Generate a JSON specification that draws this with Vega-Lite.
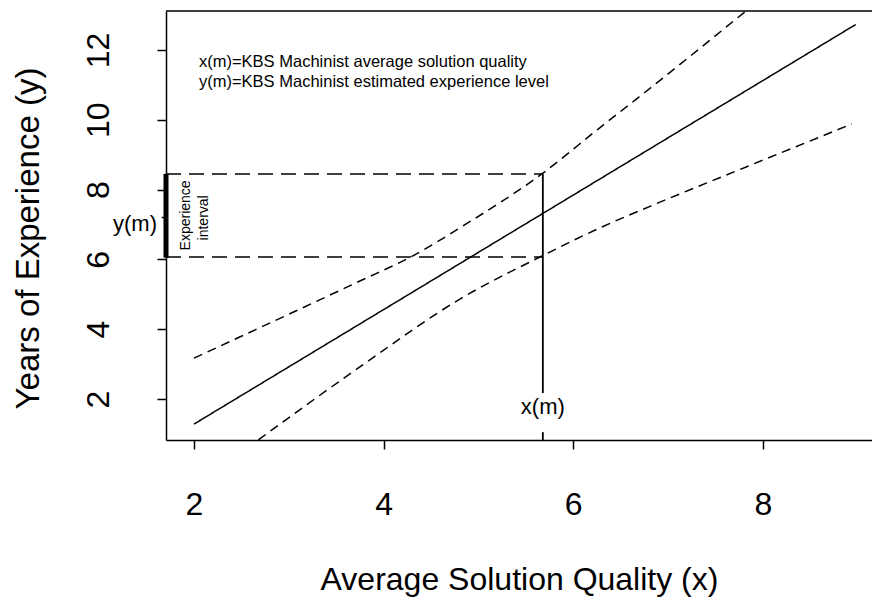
{
  "$schema": "https://vega.github.io/schema/vega-lite/v6.json",
  "width": 706,
  "height": 429,
  "autosize": {"type": "none"},
  "padding": {"left": 166, "top": 11, "right": 0, "bottom": 160},
  "background": "white",
  "config": {
    "view": {"stroke": null},
    "font": "Liberation Sans",
    "axis": {
      "grid": false,
      "domainColor": "black",
      "domainWidth": 1.5,
      "tickColor": "black",
      "tickWidth": 1.5,
      "tickSize": 9,
      "labelColor": "black",
      "titleColor": "black",
      "labelFont": "Liberation Sans",
      "titleFont": "Liberation Sans",
      "titleFontWeight": "normal",
      "labelOverlap": false,
      "labelFlush": false
    }
  },
  "encoding": {
    "x": {
      "field": "x",
      "type": "quantitative",
      "scale": {"domain": [1.705, 9.152], "nice": false, "zero": false},
      "axis": {
        "values": [2, 4, 6, 8],
        "title": "Average Solution Quality (x)",
        "labelFontSize": 32,
        "labelPadding": 65,
        "labelBaseline": "alphabetic",
        "titleFontSize": 32,
        "titleX": 353,
        "titleY": 149,
        "titleAlign": "center",
        "titleBaseline": "alphabetic"
      }
    },
    "y": {
      "field": "y",
      "type": "quantitative",
      "scale": {"domain": [0.825, 13.117], "nice": false, "zero": false},
      "axis": {
        "values": [2, 4, 6, 8, 10, 12],
        "title": "Years of Experience (y)",
        "labelFontSize": 32,
        "labelAngle": 270,
        "labelAlign": "center",
        "labelBaseline": "alphabetic",
        "labelPadding": 49,
        "titleFontSize": 33,
        "titleAngle": 270,
        "titleX": -128,
        "titleY": 227,
        "titleAlign": "center",
        "titleBaseline": "alphabetic"
      }
    }
  },
  "layer": [
    {
      "data": {"values": [
        {"s": "fit", "x": 2.0, "y": 1.28},
        {"s": "fit", "x": 8.98, "y": 12.73},
        {"s": "upper", "x": 2.0, "y": 3.17},
        {"s": "upper", "x": 2.7, "y": 4.05},
        {"s": "upper", "x": 3.75, "y": 5.38},
        {"s": "upper", "x": 4.28, "y": 6.06},
        {"s": "upper", "x": 4.88, "y": 7.03},
        {"s": "upper", "x": 5.67, "y": 8.45},
        {"s": "upper", "x": 6.28, "y": 9.77},
        {"s": "upper", "x": 6.67, "y": 10.6},
        {"s": "upper", "x": 7.86, "y": 13.2},
        {"s": "lower", "x": 2.68, "y": 0.83},
        {"s": "lower", "x": 3.75, "y": 2.92},
        {"s": "lower", "x": 4.81, "y": 4.87},
        {"s": "lower", "x": 5.68, "y": 6.11},
        {"s": "lower", "x": 6.28, "y": 6.9},
        {"s": "lower", "x": 6.81, "y": 7.52},
        {"s": "lower", "x": 7.69, "y": 8.5},
        {"s": "lower", "x": 8.94, "y": 9.88}
      ]},
      "mark": {"type": "line", "clip": true, "color": "black", "strokeWidth": 1.5, "interpolate": "monotone"},
      "encoding": {
        "detail": {"field": "s"},
        "strokeDash": {
          "field": "s",
          "type": "nominal",
          "scale": {"domain": ["fit", "upper", "lower"], "range": [[1, 0], [9, 6], [9, 6]]},
          "legend": null
        }
      }
    },
    {
      "data": {"values": [
        {"x": 1.705, "x2": 5.68, "y": 8.45},
        {"x": 1.705, "x2": 5.68, "y": 6.07}
      ]},
      "mark": {"type": "rule", "color": "black", "strokeWidth": 1.5, "strokeDash": [15, 8]},
      "encoding": {"x2": {"field": "x2"}}
    },
    {
      "data": {"values": [
        {"x": 5.68, "y": 2.17, "y2": 8.45},
        {"x": 5.68, "y": 0.825, "y2": 1.05}
      ]},
      "mark": {"type": "rule", "color": "black", "strokeWidth": 1.8},
      "encoding": {"y2": {"field": "y2"}}
    },
    {
      "data": {"values": [
        {"x": 1.705, "y": 6.05, "y2": 8.45}
      ]},
      "mark": {"type": "rule", "color": "black", "strokeWidth": 5, "clip": false},
      "encoding": {"y2": {"field": "y2"}}
    },
    {
      "data": {"values": [
        {"x": 1.66, "x2": 1.705, "y": 7.2},
        {"x": 1.705, "x2": 9.152, "y": 13.117}
      ]},
      "mark": {"type": "rule", "color": "black", "strokeWidth": 1.5, "clip": false},
      "encoding": {"x2": {"field": "x2"}}
    },
    {
      "data": {"values": [
        {"x": 2.053, "y": 11.51, "t": "x(m)=KBS Machinist average solution quality"},
        {"x": 2.053, "y": 10.94, "t": "y(m)=KBS Machinist estimated experience level"}
      ]},
      "mark": {"type": "text", "align": "left", "baseline": "alphabetic", "fontSize": 16.5, "color": "black"},
      "encoding": {"text": {"field": "t"}}
    },
    {
      "data": {"values": [
        {"x": 5.68, "y": 1.57, "t": "x(m)"}
      ]},
      "mark": {"type": "text", "align": "center", "baseline": "alphabetic", "fontSize": 22, "color": "black"},
      "encoding": {"text": {"field": "t"}}
    },
    {
      "data": {"values": [
        {"x": 1.61, "y": 6.81, "t": "y(m)"}
      ]},
      "mark": {"type": "text", "align": "right", "baseline": "alphabetic", "fontSize": 22, "color": "black", "clip": false},
      "encoding": {"text": {"field": "t"}}
    },
    {
      "data": {"values": [
        {"x": 1.958, "y": 7.26, "t": "Experience"},
        {"x": 2.148, "y": 7.19, "t": "interval"}
      ]},
      "mark": {"type": "text", "align": "center", "baseline": "alphabetic", "angle": 270, "fontSize": 14, "color": "black"},
      "encoding": {"text": {"field": "t"}}
    }
  ]
}
